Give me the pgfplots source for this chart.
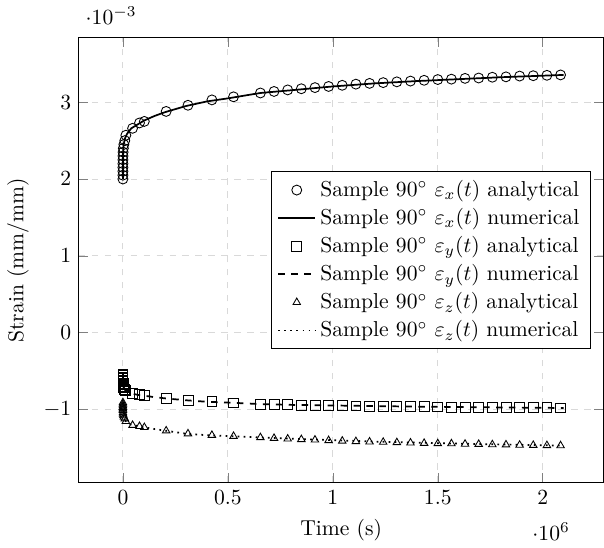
\documentclass[border=0pt]{standalone}
\usepackage{pgfplots}
\usepackage{pgfplotstable}
\pgfplotsset{compat=1.18}

% analytical solution (markers), t in s
\pgfplotstableread{
t       ex       ey        ez
0       2.00e-3  -0.540e-3 -0.910e-3
0.01    2.05e-3  -0.560e-3 -0.930e-3
0.5     2.10e-3  -0.580e-3 -0.950e-3
3       2.15e-3  -0.600e-3 -0.970e-3
20      2.20e-3  -0.620e-3 -0.990e-3
80      2.25e-3  -0.640e-3 -1.010e-3
300     2.30e-3  -0.660e-3 -1.040e-3
800     2.35e-3  -0.680e-3 -1.060e-3
2000    2.40e-3  -0.700e-3 -1.080e-3
4500    2.45e-3  -0.720e-3 -1.100e-3
9000    2.50e-3  -0.740e-3 -1.120e-3
14000   2.57e-3  -0.755e-3 -1.154e-3
46000   2.66e-3  -0.790e-3 -1.205e-3
79000   2.73e-3  -0.810e-3 -1.220e-3
102000  2.75e-3  -0.820e-3 -1.233e-3
206000  2.88e-3  -0.855e-3 -1.277e-3
310000  2.96e-3  -0.880e-3 -1.315e-3
424000  3.03e-3  -0.900e-3 -1.335e-3
527000  3.07e-3  -0.915e-3 -1.348e-3
655000  3.120e-3 -0.930e-3 -1.365e-3
720000  3.140e-3 -0.934e-3 -1.374e-3
785000  3.160e-3 -0.939e-3 -1.383e-3
850000  3.175e-3 -0.942e-3 -1.390e-3
915000  3.190e-3 -0.945e-3 -1.396e-3
980000  3.205e-3 -0.948e-3 -1.403e-3
1045000 3.220e-3 -0.951e-3 -1.410e-3
1110000 3.235e-3 -0.954e-3 -1.416e-3
1175000 3.245e-3 -0.957e-3 -1.421e-3
1240000 3.255e-3 -0.959e-3 -1.425e-3
1305000 3.265e-3 -0.961e-3 -1.430e-3
1370000 3.275e-3 -0.963e-3 -1.434e-3
1435000 3.285e-3 -0.965e-3 -1.439e-3
1500000 3.295e-3 -0.967e-3 -1.443e-3
1565000 3.300e-3 -0.968e-3 -1.445e-3
1630000 3.310e-3 -0.970e-3 -1.450e-3
1695000 3.315e-3 -0.972e-3 -1.452e-3
1760000 3.325e-3 -0.974e-3 -1.457e-3
1825000 3.330e-3 -0.975e-3 -1.459e-3
1890000 3.340e-3 -0.977e-3 -1.463e-3
1955000 3.345e-3 -0.978e-3 -1.465e-3
2020000 3.350e-3 -0.979e-3 -1.468e-3
2085000 3.355e-3 -0.980e-3 -1.470e-3
}\analytical

% numerical solution (lines)
\pgfplotstableread{
t       ex       ey        ez
0       2.000e-3 -0.540e-3 -0.910e-3
1       2.110e-3 -0.580e-3 -0.950e-3
10      2.160e-3 -0.610e-3 -0.980e-3
100     2.240e-3 -0.640e-3 -1.010e-3
1000    2.360e-3 -0.680e-3 -1.060e-3
3600    2.450e-3 -0.710e-3 -1.100e-3
10000   2.530e-3 -0.745e-3 -1.140e-3
20000   2.590e-3 -0.765e-3 -1.170e-3
40000   2.660e-3 -0.790e-3 -1.200e-3
70000   2.710e-3 -0.810e-3 -1.215e-3
100000  2.760e-3 -0.820e-3 -1.230e-3
150000  2.820e-3 -0.840e-3 -1.255e-3
200000  2.870e-3 -0.855e-3 -1.275e-3
300000  2.950e-3 -0.880e-3 -1.315e-3
400000  3.010e-3 -0.900e-3 -1.335e-3
500000  3.050e-3 -0.910e-3 -1.345e-3
655000  3.120e-3 -0.930e-3 -1.365e-3
800000  3.155e-3 -0.940e-3 -1.380e-3
1000000 3.205e-3 -0.948e-3 -1.400e-3
1200000 3.245e-3 -0.956e-3 -1.418e-3
1400000 3.275e-3 -0.963e-3 -1.432e-3
1600000 3.300e-3 -0.968e-3 -1.445e-3
1800000 3.325e-3 -0.974e-3 -1.455e-3
2000000 3.345e-3 -0.978e-3 -1.466e-3
2100000 3.355e-3 -0.981e-3 -1.471e-3
}\numerical

\begin{document}
\begin{tikzpicture}
\begin{axis}[
    scale only axis,
    width=243pt, height=206pt,
    xmin=-210000, xmax=2290000,
    ymin=-1.953e-3, ymax=3.838e-3,
    xtick={0,500000,1000000,1500000,2000000},
    ytick={-1e-3,0,1e-3,2e-3,3e-3},
    xlabel={Time (s)},
    ylabel={Strain (mm/mm)},
    grid=major,
    grid style={dashed, gray!30},
    legend cell align=left,
    legend style={at={(0.975,0.5)}, anchor=east},
]
\addplot[only marks, mark=o, mark size=2.3pt, black] table[x=t, y=ex] {\analytical};
\addlegendentry{Sample $90^\circ$ $\varepsilon_x(t)$ analytical}
\addplot[black, thick, no marks] table[x=t, y=ex] {\numerical};
\addlegendentry{Sample $90^\circ$ $\varepsilon_x(t)$ numerical}
\addplot[only marks, mark=square, mark size=2.3pt, black] table[x=t, y=ey] {\analytical};
\addlegendentry{Sample $90^\circ$ $\varepsilon_y(t)$ analytical}
\addplot[black, thick, dashed, no marks] table[x=t, y=ey] {\numerical};
\addlegendentry{Sample $90^\circ$ $\varepsilon_y(t)$ numerical}
\addplot[only marks, mark=triangle, mark size=2pt, black] table[x=t, y=ez] {\analytical};
\addlegendentry{Sample $90^\circ$ $\varepsilon_z(t)$ analytical}
\addplot[black, thick, dotted, no marks] table[x=t, y=ez] {\numerical};
\addlegendentry{Sample $90^\circ$ $\varepsilon_z(t)$ numerical}
\end{axis}
\path ([yshift=3pt]current bounding box.north);
\end{tikzpicture}
\end{document}
